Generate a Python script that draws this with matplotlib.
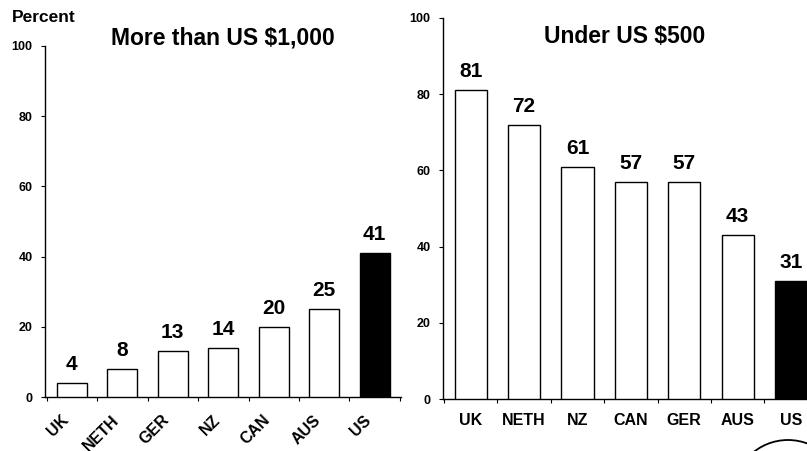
import matplotlib
matplotlib.use("Agg")
import matplotlib.pyplot as plt
from matplotlib.patches import Circle
from matplotlib.transforms import ScaledTranslation

plt.rcParams['font.family'] = ['Liberation Sans', 'DejaVu Sans']

# Share of adults with out-of-pocket spending, by country
over_1000_countries = ["UK", "NETH", "GER", "NZ", "CAN", "AUS", "US"]
over_1000_values = [4, 8, 13, 14, 20, 25, 41]

under_500_countries = ["UK", "NETH", "NZ", "CAN", "GER", "AUS", "US"]
under_500_values = [81, 72, 61, 57, 57, 43, 31]

y_ticks = [0, 20, 40, 60, 80, 100]

fig = plt.figure(figsize=(8.07, 4.51), dpi=100)
W, H = 807, 451


def px_axes(left, right, bottom_px, top_px):
    return fig.add_axes([left / W, (H - bottom_px) / H,
                         (right - left) / W, (bottom_px - top_px) / H])


def style_axis(ax, n):
    for s in ("top", "right"):
        ax.spines[s].set_visible(False)
    for s in ("left", "bottom"):
        ax.spines[s].set_linewidth(1.0)
    ax.set_ylim(0, 100)
    ax.set_yticks(y_ticks)
    ax.set_yticklabels([str(t) for t in y_ticks], fontsize=9, fontweight="heavy")
    ax.tick_params(axis="y", length=3, width=0.8, pad=6)
    ax.set_xticks([i - 0.5 for i in range(n + 1)], minor=True)
    ax.set_xticks(range(n))
    ax.tick_params(axis="x", which="major", length=0)
    ax.tick_params(axis="x", which="minor", length=3, width=0.8, direction="out")


def draw_bars(ax, values):
    colors = ["white"] * (len(values) - 1) + ["black"]
    ax.bar(range(len(values)), values, width=0.6, color=colors,
           edgecolor="black", linewidth=1.0, zorder=3)
    for i, v in enumerate(values):
        ax.annotate(str(v), (i, v), xytext=(0, 13), textcoords="offset pixels",
                    ha="center", va="baseline", fontsize=15, fontweight="bold")


# Left panel: more than US $1,000
ax1 = px_axes(45, 401, 397, 46)
draw_bars(ax1, over_1000_values)
style_axis(ax1, len(over_1000_values))
ax1.set_xlim(-0.53, 6.52)
ax1.set_xticklabels(over_1000_countries, rotation=45, ha="right", va="top",
                    rotation_mode="anchor", fontsize=11.5, fontweight="bold")
ax1.tick_params(axis="x", which="major", pad=11)
shift = ScaledTranslation(-11 / 100, 0, fig.dpi_scale_trans)
for lbl in ax1.get_xticklabels():
    lbl.set_transform(lbl.get_transform() + shift)
ax1.text(0.5, 1 - (38 - 46) / (397 - 46), "More than US $1,000",
         transform=ax1.transAxes, ha="center", va="center",
         fontsize=16.5, fontweight="bold")
fig.text(12 / W, 1 - 18 / H, "Percent", ha="left", va="center",
         fontsize=12.5, fontweight="bold")

# Right panel: under US $500
ax2 = px_axes(443, 807, 399, 18)
draw_bars(ax2, under_500_values)
style_axis(ax2, len(under_500_values))
ax2.set_xlim(-0.52, 6.3)
ax2.set_xticklabels(under_500_countries, fontsize=11.5, fontweight="bold")
ax2.tick_params(axis="x", which="major", pad=10)
ax2.text(0.5, 1 - (37 - 18) / (399 - 18), "Under US $500", transform=ax2.transAxes,
         ha="center", va="center", fontsize=16.5, fontweight="bold")

# Partial ring at the lower right corner
ring = Circle((788, H - 495), 55, transform=None, fill=False,
              edgecolor="black", linewidth=1.3)
fig.patches.append(ring)

fig.savefig("out.png", dpi=100)
